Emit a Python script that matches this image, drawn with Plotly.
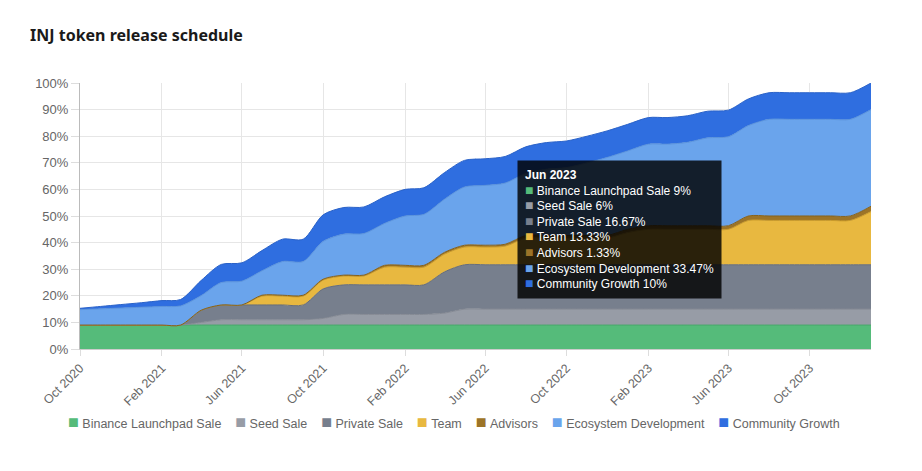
import plotly.graph_objects as go

months = ["2020-10-01", "2020-11-01", "2020-12-01", "2021-01-01", "2021-02-01", "2021-03-01",
          "2021-04-01", "2021-05-01", "2021-06-01", "2021-07-01", "2021-08-01", "2021-09-01",
          "2021-10-01", "2021-11-01", "2021-12-01", "2022-01-01", "2022-02-01", "2022-03-01",
          "2022-04-01", "2022-05-01", "2022-06-01", "2022-07-01", "2022-08-01", "2022-09-01",
          "2022-10-01", "2022-11-01", "2022-12-01", "2023-01-01", "2023-02-01", "2023-03-01",
          "2023-04-01", "2023-05-01", "2023-06-01", "2023-07-01", "2023-08-01", "2023-09-01",
          "2023-10-01", "2023-11-01", "2023-12-01", "2024-01-01"]

binance = [9, 9, 9, 9, 9, 9, 9, 9, 9, 9, 9, 9, 9, 9, 9, 9, 9, 9, 9, 9,
           9, 9, 9, 9, 9, 9, 9, 9, 9, 9, 9, 9, 9, 9, 9, 9, 9, 9, 9, 9]
seed = [0, 0, 0, 0, 0, 0, 1.0, 2, 2, 2, 2, 2, 2.5, 4, 4, 4, 4, 4, 4.5, 6,
        6, 6, 6, 6, 6, 6, 6, 6, 6, 6, 6, 6, 6, 6, 6, 6, 6, 6, 6, 6]
private = [0, 0, 0, 0, 0, 0, 4.6, 5.56, 5.56, 5.56, 5.56, 5.56, 11.11, 11.11, 11.11, 11.11, 11.11, 11.11, 15.5, 16.67,
           16.67, 16.67, 16.67, 16.67, 16.67, 16.67, 16.67, 16.67, 16.67, 16.67, 16.67, 16.67, 16.67, 16.67, 16.67, 16.67, 16.67, 16.67, 16.67, 16.67]
team = [0, 0, 0, 0, 0, 0, 0, 0, 0, 3.33, 3.33, 3.33, 3.33, 3.33, 3.33, 6.67, 6.67, 6.67, 6.67, 6.67,
        6.67, 7.0, 10, 10, 10, 10, 10, 12.1, 13.33, 13.33, 13.33, 13.33, 13.33, 16.67, 16.67, 16.67, 16.67, 16.67, 16.67, 20]
advisors = [0, 0, 0, 0, 0, 0, 0, 0, 0, 0.33, 0.33, 0.33, 0.33, 0.33, 0.33, 0.67, 0.67, 0.67, 0.67, 0.67,
            0.67, 0.7, 1.0, 1.0, 1.0, 1.0, 1.0, 1.2, 1.33, 1.33, 1.33, 1.33, 1.33, 1.67, 1.67, 1.67, 1.67, 1.67, 1.67, 2]
ecosystem = [5.8, 6.1, 6.4, 6.7, 7.0, 7.2, 5.5, 8.44, 8.94, 9.17, 12.67, 12.67, 14.2, 15.42, 15.62, 15.76, 18.56, 19.16, 19.97, 21.9,
             22.5, 23.0, 23.33, 24.93, 25.53, 27.33, 29.33, 29.5, 30.67, 30.67, 31.37, 33.07, 33.47, 34.0, 36.33, 36.33, 36.33, 36.33, 36.33, 36.33]
community = [0.5, 0.9, 1.3, 1.7, 2.2, 2.4, 5.7, 6.8, 6.9, 7.6, 8.4, 8.4, 10, 10, 10, 10, 10, 10, 10, 10,
             10, 10, 10, 10, 10, 10, 10, 10, 10, 10, 10, 10, 10, 10, 10, 10, 10, 10, 10, 10]

series_names = ["Binance Launchpad Sale", "Seed Sale", "Private Sale", "Team", "Advisors",
                "Ecosystem Development", "Community Growth"]
series_values = [binance, seed, private, team, advisors, ecosystem, community]
fill_colors = ["#55bb7a", "#979ca6", "#777f8d", "#e8b840", "#9c7428", "#6aa4ec", "#2f6ee0"]
line_colors = ["#47a86a", "#858a94", "#666d7a", "#c99a2a", "#86621c", "#5a93dc", "#2a62c8"]

tooltip_month = "2023-06-01"
tooltip_title = "Jun 2023"

FONT = "Liberation Sans, Arial, Helvetica, sans-serif"

fig = go.Figure()
for name, vals, fc, lc in zip(series_names, series_values, fill_colors, line_colors):
    fig.add_trace(go.Scatter(
        x=months, y=vals, name=name, mode="lines",
        stackgroup="one", fillcolor=fc,
        line=dict(color=lc, width=1, shape="spline", smoothing=0.8),
        hoverinfo="skip", showlegend=False,
    ))

# tooltip replica (hover state shown in the reference)
ti = months.index(tooltip_month)
lines = ["<b>" + tooltip_title + "</b>"]
for name, vals, fc in zip(series_names, series_values, fill_colors):
    lines.append('<span style="color:%s;font-size:14px">■</span>&nbsp;%s %g%%' % (fc, name, vals[ti]))
stack_top = sum(v[ti] for v in series_values[:5])
fig.add_annotation(
    x=tooltip_month, y=stack_top, xref="x", yref="y",
    text="<br>".join(lines), showarrow=False, align="left",
    xanchor="right", yanchor="middle", xshift=-6, yshift=-4,
    bgcolor="rgba(0,0,0,0.82)", borderpad=7, bordercolor="rgba(0,0,0,0)",
    font=dict(family=FONT, size=12, color="#ffffff"),
)

# legend row (custom, to keep the compact single-row layout)
legend_parts = []
for name, fc in zip(series_names, fill_colors):
    legend_parts.append('<span style="color:%s;font-size:18px">■</span>&nbsp;%s' % (fc, name))
fig.add_annotation(
    x=0.473, y=-0.274, xref="paper", yref="paper",
    text="&nbsp;&nbsp;&nbsp;&nbsp;".join(legend_parts), showarrow=False,
    xanchor="center", yanchor="middle",
    font=dict(family=FONT, size=12.5, color="#666666"),
)

# the page adds an 8px body margin, so margins are offset to put the plot
# area at x 80..871, y 83..349 in the window
fig.update_layout(
    width=922, height=471,
    margin=dict(l=72, r=59, t=75, b=130),
    paper_bgcolor="#ffffff", plot_bgcolor="#ffffff",
    title=dict(text="<b>INJ token release schedule</b>", x=22 / 922, xanchor="left",
               xref="container", y=1 - 27 / 471, yanchor="middle",
               font=dict(family="Noto Sans, sans-serif", size=16, color="#1a1a1a")),
    font=dict(family=FONT, size=13, color="#666666"),
    showlegend=False,
    hovermode=False,
)
fig.update_xaxes(
    type="date", range=[months[0], months[-1]], automargin=False,
    tick0=months[0], dtick="M4", tickformat="%b %Y", tickangle=-45,
    showgrid=True, gridcolor="#e6e6e6", gridwidth=1,
    showline=True, linecolor="#cccccc", linewidth=1,
    ticks="outside", ticklen=6, tickcolor="#dddddd",
    tickfont=dict(size=12.5, color="#666666"),
)
fig.update_yaxes(
    range=[0, 100], dtick=10, ticksuffix="%", automargin=False,
    showgrid=True, gridcolor="#e6e6e6", gridwidth=1,
    showline=True, linecolor="#bbbbbb", linewidth=1,
    ticks="outside", ticklen=8, tickcolor="#dddddd",
    tickfont=dict(size=13, color="#666666"), zeroline=False,
)

fig.write_html("out.html")
